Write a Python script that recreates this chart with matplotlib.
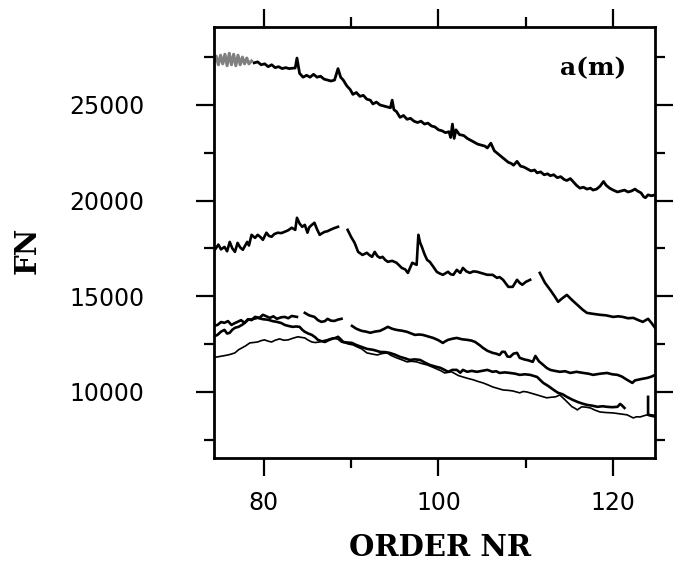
import numpy as np
import matplotlib
matplotlib.use("Agg")
import matplotlib.pyplot as plt
from matplotlib.ticker import MultipleLocator, FixedLocator, NullFormatter

# top curve (x, FN); first part is the blurred/grey zigzag
top = [(74.3, 27250), (74.55, 27550), (74.8, 27100), (75.05, 27600), (75.3, 27150), (75.55, 27650),
       (75.8, 27050), (76.05, 27700), (76.3, 27100), (76.55, 27650), (76.8, 27050), (77.05, 27600),
       (77.3, 27100), (77.55, 27500), (77.8, 27150), (78.05, 27450), (78.3, 27150), (78.6, 27300),
       (78.9, 27200), (79.3, 27250), (79.7, 27100), (80.1, 27150), (80.5, 27000), (80.9, 27100),
       (81.3, 26950), (81.7, 27000), (82.1, 26900), (82.5, 26950), (82.9, 26900), (83.3, 26920),
       (83.6, 26930), (83.8, 27450), (84.1, 26650), (84.5, 26450), (84.9, 26550), (85.3, 26450),
       (85.7, 26600), (86.1, 26450), (86.5, 26500), (86.9, 26350), (87.3, 26300), (87.7, 26250),
       (88.1, 26300), (88.5, 26900), (88.8, 26450), (89.1, 26300), (89.5, 26000), (89.9, 25800),
       (90.2, 25550), (90.6, 25650), (91.0, 25450), (91.4, 25500), (91.8, 25300), (92.2, 25250),
       (92.5, 25050), (92.9, 25150), (93.3, 25000), (93.7, 24950), (94.1, 24900), (94.5, 24850),
       (94.7, 25250), (94.9, 24750), (95.2, 24650), (95.6, 24350), (96.0, 24450), (96.4, 24250),
       (96.8, 24300), (97.2, 24150), (97.6, 24080), (98.0, 24150), (98.4, 24000), (98.8, 24050),
       (99.2, 23900), (99.6, 23850), (100.0, 23700), (100.4, 23650), (100.8, 23550), (101.2, 23600),
       (101.4, 23300), (101.6, 24000), (101.8, 23250), (102.0, 23700), (102.4, 23450), (102.9, 23400),
       (103.3, 23250), (103.7, 23150), (104.1, 23050), (104.5, 22950), (104.9, 22900), (105.3, 22850),
       (105.6, 22750), (106.0, 23000), (106.4, 22600), (106.8, 22450), (107.2, 22300), (107.6, 22150),
       (108.0, 22000), (108.3, 21950), (108.6, 21850), (109.0, 22050), (109.4, 21800), (109.8, 21750),
       (110.2, 21650), (110.6, 21550), (111.0, 21600), (111.3, 21450), (111.7, 21500), (112.1, 21350),
       (112.5, 21400), (112.8, 21300), (113.2, 21350), (113.6, 21200), (114.0, 21250), (114.4, 21100),
       (114.7, 21050), (115.1, 21150), (115.5, 20950), (115.8, 20800), (116.2, 20650), (116.6, 20700),
       (117.0, 20600), (117.4, 20650), (117.7, 20550), (118.1, 20600), (118.5, 20750), (118.9, 21000),
       (119.2, 20800), (119.6, 20650), (120.0, 20550), (120.5, 20450), (120.9, 20500), (121.3, 20550),
       (121.7, 20450), (122.1, 20500), (122.5, 20600), (122.8, 20500), (123.2, 20400), (123.5, 20200),
       (123.7, 20150), (124.0, 20300), (124.4, 20250), (124.8, 20300)]

# middle curve, three pieces
mid_a = [(74.4, 17430), (74.8, 17700), (75.1, 17450), (75.5, 17580), (75.8, 17350), (76.1, 17840),
         (76.4, 17500), (76.7, 17320), (77.0, 17790), (77.3, 17550), (77.6, 17430), (78.1, 17840),
         (78.3, 17650), (78.6, 18210), (79.0, 18050), (79.3, 18210), (79.6, 18100), (79.9, 17950),
         (80.3, 18320), (80.6, 18150), (80.9, 18110), (81.2, 18250), (81.6, 18320), (82.0, 18300),
         (82.4, 18370), (82.8, 18450), (83.2, 18580), (83.6, 18470), (83.8, 19100), (84.1, 18800),
         (84.4, 18630), (84.7, 18730), (85.0, 18320), (85.2, 18600), (85.5, 18730), (85.8, 18840),
         (86.1, 18500), (86.4, 18210), (86.7, 18300), (87.0, 18370), (87.3, 18400), (87.6, 18470),
         (88.0, 18550), (88.5, 18630)]
mid_b = [(89.6, 18470), (90.0, 18100), (90.4, 17790), (90.8, 17320), (91.3, 17160), (91.8, 17270),
         (92.1, 17150), (92.4, 17060), (92.7, 17320), (93.0, 17100), (93.3, 17010), (93.6, 17060),
         (93.9, 16900), (94.2, 16800), (94.7, 16850), (95.2, 16750), (95.8, 16480), (96.2, 16400),
         (96.5, 16220), (97.0, 16750), (97.5, 16640), (97.7, 18210), (97.9, 17800), (98.1, 17580),
         (98.4, 17200), (98.7, 16900), (99.0, 16800), (99.4, 16550), (99.8, 16280), (100.1, 16200),
         (100.5, 16120), (101.1, 16280), (101.4, 16150), (101.7, 16120), (102.1, 16380), (102.5, 16220),
         (102.8, 16480), (103.2, 16300), (103.6, 16220), (104.0, 16300), (104.4, 16280), (105.0, 16200),
         (105.6, 16120), (106.2, 16120), (106.7, 15960), (107.0, 16000), (107.4, 15860), (108.0, 15490),
         (108.5, 15490), (109.0, 15860), (109.3, 15700), (109.6, 15600), (110.0, 15750), (110.5, 15860)]
mid_c = [(111.6, 16220), (112.2, 15700), (112.8, 15330), (113.3, 15000), (113.7, 14710), (114.2, 14900),
         (114.7, 15070), (115.3, 14800), (115.9, 14550), (116.5, 14300), (117.0, 14130), (117.7, 14080),
         (118.5, 14030), (119.2, 14000), (120.0, 13920), (120.6, 13950), (121.1, 13920), (121.7, 13850),
         (122.3, 13870), (122.9, 13750), (123.4, 13660), (124.0, 13820), (124.4, 13600), (124.8, 13350)]

# lower bundle: curve A (thick, three pieces)
low_a1 = [(74.3, 13450), (74.7, 13500), (75.1, 13650), (75.5, 13610), (75.9, 13700), (76.3, 13500),
          (76.7, 13600), (77.0, 13660), (77.4, 13750), (77.8, 13610), (78.2, 13800), (78.6, 13750),
          (79.0, 13920), (79.5, 13870), (79.9, 14030), (80.3, 13950), (80.7, 13870), (81.1, 13950),
          (81.5, 13820), (82.0, 13900), (82.4, 13920), (82.8, 13850), (83.2, 13970), (83.8, 13920)]
low_a2 = [(84.7, 14130), (85.2, 14000), (85.8, 13920), (86.2, 13750), (86.6, 13660), (87.0, 13700),
          (87.3, 13820), (87.7, 13720), (88.1, 13710), (88.5, 13780), (88.9, 13820)]
low_a3 = [(90.1, 13450), (90.6, 13300), (91.2, 13190), (91.7, 13150), (92.2, 13090), (92.7, 13150),
          (93.3, 13190), (93.8, 13300), (94.2, 13400), (94.7, 13300), (95.2, 13240), (95.8, 13200),
          (96.4, 13140), (96.9, 13050), (97.3, 12980), (97.8, 13000), (98.2, 12980), (98.8, 12900),
          (99.4, 12820), (100.0, 12700), (100.5, 12560), (100.8, 12650), (101.1, 12720), (101.6, 12780),
          (102.1, 12820), (102.7, 12750), (103.3, 12720), (103.8, 12680), (104.2, 12610), (104.7, 12450),
          (105.1, 12300), (105.6, 12150), (106.2, 12040), (106.6, 12000), (107.0, 11930), (107.3, 12100),
          (107.6, 12090), (107.9, 11850), (108.2, 11830), (108.6, 12000), (109.0, 12040), (109.3, 11780),
          (109.8, 11700), (110.3, 11650), (110.8, 11570), (111.1, 11880), (111.5, 11600), (112.0, 11410),
          (112.4, 11250), (112.8, 11150), (113.3, 11100), (113.9, 11050), (114.5, 11080), (115.1, 10990),
          (115.8, 11050), (116.6, 10990), (117.2, 10950), (117.7, 10890), (118.5, 10950), (119.3, 10990),
          (119.9, 10920), (120.5, 10890), (121.0, 10800), (121.6, 10630), (122.2, 10470), (122.5, 10600),
          (122.8, 10630), (123.3, 10680), (123.9, 10730), (124.4, 10800), (124.8, 10890)]

# curve B (thick)
low_b1 = [(74.3, 12900), (74.7, 12980), (75.1, 13150), (75.5, 13240), (75.8, 13050), (76.1, 13090),
          (76.4, 13250), (76.7, 13350), (77.1, 13400), (77.5, 13500), (77.8, 13600), (78.2, 13770),
          (78.7, 13800), (79.3, 13870), (79.9, 13800), (80.5, 13770), (81.0, 13700), (81.5, 13660),
          (82.0, 13600), (82.4, 13500), (82.8, 13450), (83.3, 13400), (83.7, 13420), (84.1, 13400),
          (84.4, 13250), (84.7, 13140), (85.1, 13050), (85.5, 12980), (85.9, 12850), (86.2, 12720),
          (86.6, 12650), (87.0, 12610), (87.4, 12700), (87.8, 12770), (88.2, 12820), (88.5, 12880),
          (88.8, 12750), (89.1, 12610), (89.6, 12580), (90.1, 12560), (90.6, 12450), (91.2, 12350),
          (91.8, 12250), (92.5, 12200), (92.9, 12150), (93.3, 12090), (93.9, 12080), (94.4, 12040),
          (95.0, 11950), (95.6, 11830), (96.2, 11750), (96.7, 11670), (97.3, 11700), (97.9, 11670),
          (98.5, 11520), (99.0, 11410), (99.6, 11330), (100.2, 11260), (100.7, 11150), (101.1, 11050),
          (101.6, 11150), (102.1, 11150), (102.5, 11000), (102.8, 11150), (103.3, 11050), (103.8, 11100),
          (104.4, 11050), (105.0, 11100), (105.6, 11150), (106.2, 11050), (106.6, 11080), (107.0, 10990),
          (107.6, 11020), (108.2, 10990), (108.8, 10950), (109.3, 10890), (109.9, 10920), (110.5, 10890),
          (111.3, 10780), (111.7, 10600), (112.0, 10470), (112.6, 10300), (113.2, 10100), (113.7, 9950),
          (114.2, 9880), (114.7, 9740), (115.3, 9600), (115.9, 9480), (116.4, 9400), (117.0, 9320),
          (117.6, 9280), (118.2, 9220), (118.8, 9250), (119.3, 9220), (119.9, 9200), (120.5, 9220),
          (120.8, 9370), (121.0, 9300), (121.3, 9160)]
low_b2 = [(124.0, 9740), (124.0, 8800), (124.8, 8750)]

# curve C (thin)
low_c = [(74.3, 11800), (74.7, 11830), (75.3, 11880), (75.9, 11930), (76.3, 11980), (76.7, 12040),
         (77.1, 12200), (77.5, 12300), (77.9, 12400), (78.4, 12560), (78.8, 12580), (79.3, 12610),
         (79.7, 12680), (80.1, 12720), (80.5, 12650), (80.9, 12610), (81.3, 12700), (81.8, 12770),
         (82.3, 12700), (82.8, 12720), (83.3, 12800), (83.9, 12880), (84.3, 12850), (84.7, 12820),
         (85.1, 12700), (85.5, 12610), (85.9, 12580), (86.4, 12610), (86.8, 12680), (87.2, 12720),
         (87.6, 12780), (87.9, 12820), (88.5, 12750), (88.9, 12600), (89.3, 12560), (89.7, 12500),
         (90.2, 12460), (90.7, 12350), (91.2, 12250), (91.8, 12040), (92.4, 11980), (93.0, 11930),
         (93.5, 12000), (94.1, 12040), (94.6, 11900), (95.2, 11780), (95.8, 11680), (96.4, 11570),
         (96.9, 11600), (97.5, 11570), (98.1, 11480), (98.7, 11410), (99.3, 11300), (99.8, 11200),
         (100.3, 11100), (100.7, 10990), (101.1, 11020), (101.5, 11050), (101.9, 10950), (102.3, 10850),
         (102.8, 10780), (103.4, 10700), (104.0, 10630), (104.5, 10550), (105.1, 10470), (105.6, 10380),
         (106.2, 10260), (106.8, 10180), (107.4, 10100), (108.0, 10080), (108.5, 10050), (108.9, 10000),
         (109.3, 9950), (109.7, 10020), (110.1, 10000), (110.7, 9920), (111.3, 9840), (111.8, 9770),
         (112.4, 9690), (112.9, 9720), (113.4, 9740), (113.9, 9840), (114.5, 9580), (114.9, 9400),
         (115.3, 9220), (115.6, 9150), (115.9, 9060), (116.4, 9220), (116.9, 9200), (117.4, 9160),
         (117.9, 9050), (118.5, 8950), (119.2, 8920), (120.0, 8900), (120.8, 8850), (121.6, 8800),
         (122.3, 8640), (122.7, 8700), (123.1, 8690), (123.5, 8750), (123.9, 8800), (124.4, 8720),
         (124.8, 8690)]

thick = [mid_a, mid_b, mid_c, low_a1, low_a2, low_a3, low_b1, low_b2]
thin = [low_c]

fig = plt.figure(figsize=(6.87, 5.66), dpi=100)
ax = fig.add_axes([0.3115, 0.191, 0.642, 0.7615])

t = np.array(top)
grey = t[:, 0] <= 78.6
ax.plot(t[grey, 0], t[grey, 1], color="#808080", lw=2.2)
ax.plot(t[~grey, 0], t[~grey, 1], color="black", lw=2.0)
for seg in thick:
    a = np.array(seg)
    ax.plot(a[:, 0], a[:, 1], color="black", lw=1.9)
for seg in thin:
    a = np.array(seg)
    ax.plot(a[:, 0], a[:, 1], color="black", lw=1.2)

ax.set_xlim(74.3, 124.8)
ax.set_ylim(6550, 29080)

ax.xaxis.set_major_locator(FixedLocator([80, 100, 120]))
ax.xaxis.set_minor_locator(FixedLocator([90, 110]))
ax.yaxis.set_major_locator(MultipleLocator(5000))
ax.yaxis.set_minor_locator(FixedLocator([7500, 12500, 17500, 22500, 27500]))
ax.yaxis.set_minor_formatter(NullFormatter())

ax.tick_params(which="both", direction="out", top=True, right=True, width=1.6, color="black")
ax.tick_params(which="major", length=13)
ax.tick_params(which="minor", length=7)
ax.tick_params(axis="x", which="major", pad=11, labelsize=17)
ax.tick_params(axis="y", which="major", pad=37, labelsize=17)
for sp in ax.spines.values():
    sp.set_linewidth(2)

ax.text(0.86, 0.905, "a(m)", transform=ax.transAxes, ha="center", va="center",
        fontsize=18, fontweight="bold", family="DejaVu Serif")
fig.text(440 / 687, 1 - 547 / 566, "ORDER NR", ha="center", va="center",
         fontsize=21, fontweight="bold", family="DejaVu Serif")
fig.text(27 / 687, 1 - 250 / 566, "FN", ha="center", va="center", rotation=90,
         fontsize=21, fontweight="bold", family="DejaVu Serif")

fig.savefig("out.png", dpi=100)
